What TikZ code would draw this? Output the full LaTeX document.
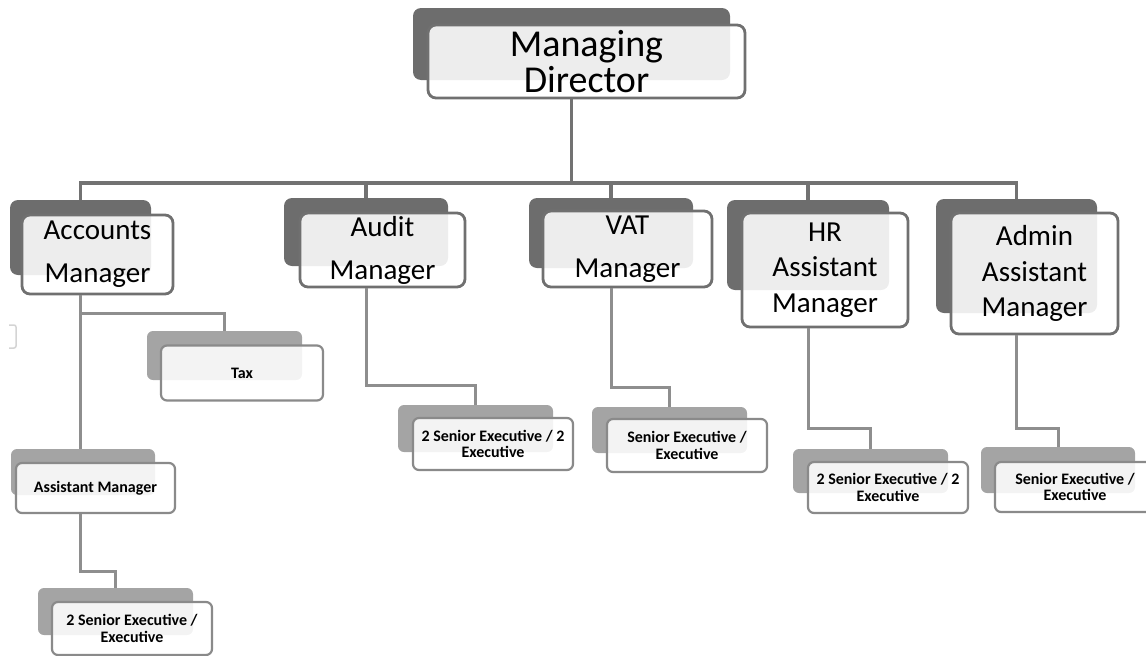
\documentclass[tikz,border=0pt]{standalone}
\usepackage{fontspec}
\setmainfont{Carlito}
\usepackage{xcolor}
\usepackage{tikz}

\definecolor{backdark}{HTML}{6D6D6D}
\definecolor{backlight}{HTML}{A4A4A4}
\definecolor{edgedark}{HTML}{707070}
\definecolor{edgelight}{HTML}{8A8A8A}
\definecolor{linedark}{HTML}{727272}
\definecolor{linelight}{HTML}{8E8E8E}
\definecolor{fragment}{HTML}{D4D4D4}

\tikzset{
  backbox/.style={rounded corners=8pt, fill=backdark, draw=none, inner sep=0pt},
  frontbox/.style={rounded corners=8pt, draw=edgedark, line width=2.8pt, fill=white,
    fill opacity=0.88, text opacity=1, inner sep=0pt, align=center},
  subback/.style={backbox, fill=backlight, rounded corners=6pt},
  subfront/.style={frontbox, draw=edgelight, line width=2.2pt, rounded corners=6pt,
    font=\bfseries\fontsize{16}{16.5}\selectfont},
  topfont/.style={font=\fontsize{38}{36}\selectfont},
  midfont/.style={font=\fontsize{29}{43}\selectfont},
  tallfont/.style={font=\fontsize{29}{35.5}\selectfont},
  conn/.style={draw=linedark, line width=3.5pt},
  subconn/.style={draw=linelight, line width=3pt}
}

\begin{document}
\begin{tikzpicture}[x=1pt,y=-1pt]
\useasboundingbox (0,0) rectangle (1146,656);

% back boxes
\node[backbox, minimum width=317pt, minimum height=72pt] (mdB) at (571.5,44) {};
\node[backbox, minimum width=141pt, minimum height=75pt] (accB) at (80.5,237.5) {};
\node[backbox, minimum width=164pt, minimum height=68pt] (auditB) at (366,232) {};
\node[backbox, minimum width=164pt, minimum height=70pt] (vatB) at (611,233) {};
\node[backbox, minimum width=162pt, minimum height=90pt] (hrB) at (808,245) {};
\node[backbox, minimum width=161pt, minimum height=114pt] (adminB) at (1016.5,256) {};
\node[subback, minimum width=155pt, minimum height=49pt] (taxB) at (224.5,355.5) {};
\node[subback, minimum width=144pt, minimum height=46pt] (amB) at (83,472) {};
\node[subback, minimum width=155pt, minimum height=47pt] (blB) at (115.5,611.5) {};
\node[subback, minimum width=155pt, minimum height=47pt] (auditcB) at (475.5,428.5) {};
\node[subback, minimum width=155pt, minimum height=46pt] (vatcB) at (669.5,430) {};
\node[subback, minimum width=155pt, minimum height=44pt] (hrcB) at (870.5,471) {};
\node[subback, minimum width=154pt, minimum height=46pt] (admincB) at (1058,470) {};

% front boxes
\node[frontbox, topfont, minimum width=317pt, minimum height=73pt] (md) at (586.5,61.5) {Managing\\Director};
\node[frontbox, midfont, minimum width=151pt, minimum height=79pt] (acc) at (97.5,254.5) {Accounts\\Manager};
\node[frontbox, midfont, minimum width=165pt, minimum height=74pt] (audit) at (382.5,250) {Audit\\Manager};
\node[frontbox, midfont, minimum width=169pt, minimum height=76pt] (vat) at (627.5,249) {VAT\\Manager};
\node[frontbox, tallfont, minimum width=166pt, minimum height=114pt] (hr) at (825,270) {HR\\Assistant\\Manager};
\node[frontbox, tallfont, minimum width=167pt, minimum height=121pt] (admin) at (1034.5,273.5) {Admin\\Assistant\\Manager};
\node[subfront, minimum width=162pt, minimum height=55pt] (tax) at (242,373) {Tax};
\node[subfront, minimum width=159pt, minimum height=50pt] (am) at (95.5,488) {Assistant Manager};
\node[subfront, minimum width=160pt, minimum height=53pt] (bl) at (132,628.5) {2 Senior Executive /\\Executive};
\node[subfront, minimum width=160pt, minimum height=52pt] (auditc) at (493,444) {2 Senior Executive / 2\\Executive};
\node[subfront, minimum width=160pt, minimum height=53pt] (vatc) at (687,445.5) {Senior Executive /\\Executive};
\node[subfront, minimum width=160pt, minimum height=51pt] (hrc) at (888,487.5) {2 Senior Executive / 2\\Executive};
\node[subfront, minimum width=160pt, minimum height=50pt] (adminc) at (1075,487) {Senior Executive /\\Executive};

% top level lines
\coordinate (bus) at (571,183);
\draw[conn] (md.south -| mdB.south) -- (mdB.south |- bus);
\draw[conn] (accB.north) |- (bus) -| (adminB.north);
\draw[conn] (auditB.north) -- (auditB.north |- bus);
\draw[conn] (vatB.north) -- (vatB.north |- bus);
\draw[conn] (hrB.north) -- (hrB.north |- bus);

% lines to the sub boxes
\draw[subconn] (acc.south -| accB.south) -- (accB.south |- amB.north);
\draw[subconn] (taxB.north) -- ++(0,-17) -| (acc.south -| accB.south);
\draw[subconn] (blB.north) -- ++(0,-16) -| (am.south -| accB.south);
\draw[subconn] (auditcB.north) -- ++(0,-19) -| (audit.south -| auditB.south);
\draw[subconn] (vatcB.north) -- ++(0,-19) -| (vat.south -| vatB.south);
\draw[subconn] (hrcB.north) -- ++(0,-20) -| (hr.south -| hrB.south);
\draw[subconn] (admincB.north) -- ++(0,-18) -| (admin.south -| adminB.south);

% edge of a box cut off at the left
\draw[draw=fragment, line width=1.5pt, rounded corners=2pt] (9,325) -- (16,325) -- (16,348) -- (9,348);
\end{tikzpicture}
\end{document}
